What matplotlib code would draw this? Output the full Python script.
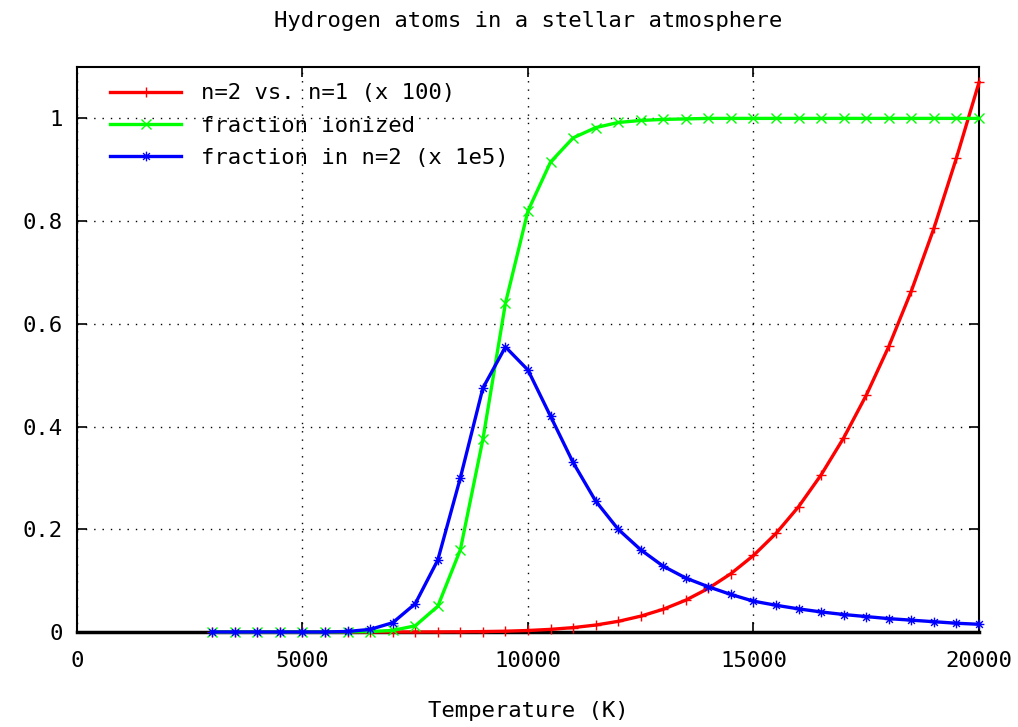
import numpy as np
from matplotlib import pyplot as plt
from matplotlib.path import Path
from matplotlib.ticker import MultipleLocator

plt.rcParams['font.family'] = ['DejaVu Sans Mono']

# temperature grid (K)
temps = list(range(3000, 20001, 500))

# n=2 vs. n=1 population ratio, scaled by 100
ratio_n2_n1 = [
    0.0, 0.0, 0.0, 0.0, 0.0, 0.0,          # 3000 - 5500
    0.0, 0.0, 0.00001, 0.00003,            # 6000 - 7500
    0.00015, 0.00036, 0.00077, 0.0015,     # 8000 - 9500
    0.0029, 0.0051, 0.0085, 0.0135,        # 10000 - 11500
    0.0207, 0.0308, 0.0443, 0.062,         # 12000 - 13500
    0.0849, 0.1136, 0.149, 0.192,          # 14000 - 15500
    0.244, 0.306, 0.378, 0.461,            # 16000 - 17500
    0.556, 0.664, 0.786, 0.923, 1.07,      # 18000 - 20000
]

# fraction of hydrogen ionized
frac_ionized = [
    0.0, 0.0, 0.0, 0.0, 0.0, 0.0,
    0.0002, 0.0008, 0.003, 0.012,
    0.05, 0.16, 0.375, 0.64,
    0.82, 0.915, 0.962, 0.982,
    0.992, 0.996, 0.998, 0.999,
    1.0, 1.0, 1.0, 1.0,
    1.0, 1.0, 1.0, 1.0,
    1.0, 1.0, 1.0, 1.0, 1.0,
]

# fraction of atoms in n=2, scaled by 1e5
frac_n2 = [
    0.0, 0.0, 0.0, 0.0, 0.0, 0.0,
    0.001, 0.005, 0.018, 0.055,
    0.14, 0.30, 0.475, 0.555,
    0.51, 0.42, 0.33, 0.255,
    0.20, 0.16, 0.128, 0.105,
    0.088, 0.073, 0.06, 0.052,
    0.045, 0.039, 0.034, 0.030,
    0.026, 0.023, 0.020, 0.017, 0.015,
]

# gnuplot style asterisk: plus and cross drawn together
star = Path(
    [(-1, 0), (1, 0), (0, -1), (0, 1), (-0.7, -0.7), (0.7, 0.7), (-0.7, 0.7), (0.7, -0.7)],
    [Path.MOVETO, Path.LINETO] * 4,
)

fig = plt.figure(figsize=(10.18, 7.27), dpi=100)
ax = fig.add_axes([0.0756, 0.1307, 0.8861, 0.7771])

series = [
    (ratio_n2_n1, "#ff0000", "+", "n=2 vs. n=1 (x 100)"),
    (frac_ionized, "#00ff00", "x", "fraction ionized"),
    (frac_n2, "#0000ff", star, "fraction in n=2 (x 1e5)"),
]
for values, colour, marker, label in series:
    ax.plot(temps, values, "-", color=colour, lw=2.4, marker=marker, ms=7,
            mew=1.0, mfc="none", label=label, clip_on=False, zorder=3)

ax.set_xlim(0, 20000)
ax.set_ylim(0, 1.1)
ax.xaxis.set_major_locator(MultipleLocator(5000))
ax.yaxis.set_major_locator(MultipleLocator(0.2))
ax.yaxis.set_major_formatter(plt.FuncFormatter(lambda v, p: f"{v:g}"))
ax.grid(True, color="k", linestyle=(0, (1, 5)), linewidth=1.0)
ax.tick_params(direction="in", top=True, right=True, length=7, width=1.2,
               labelsize=16, pad=10)
ax.tick_params(axis="x", pad=14)
for spine in ax.spines.values():
    spine.set_linewidth(1.5)
ax.spines["bottom"].set_linewidth(2.5)

ax.set_title("Hydrogen atoms in a stellar atmosphere", fontsize=16, pad=29)
ax.set_xlabel("Temperature (K)", fontsize=16, labelpad=21)

ax.legend(loc="upper left", frameon=False, fontsize=16, handlelength=3.2,
          handletextpad=0.9, borderaxespad=0, borderpad=0, labelspacing=0.55,
          bbox_to_anchor=(0.037, 0.971))

fig.savefig("out.png", dpi=100)
